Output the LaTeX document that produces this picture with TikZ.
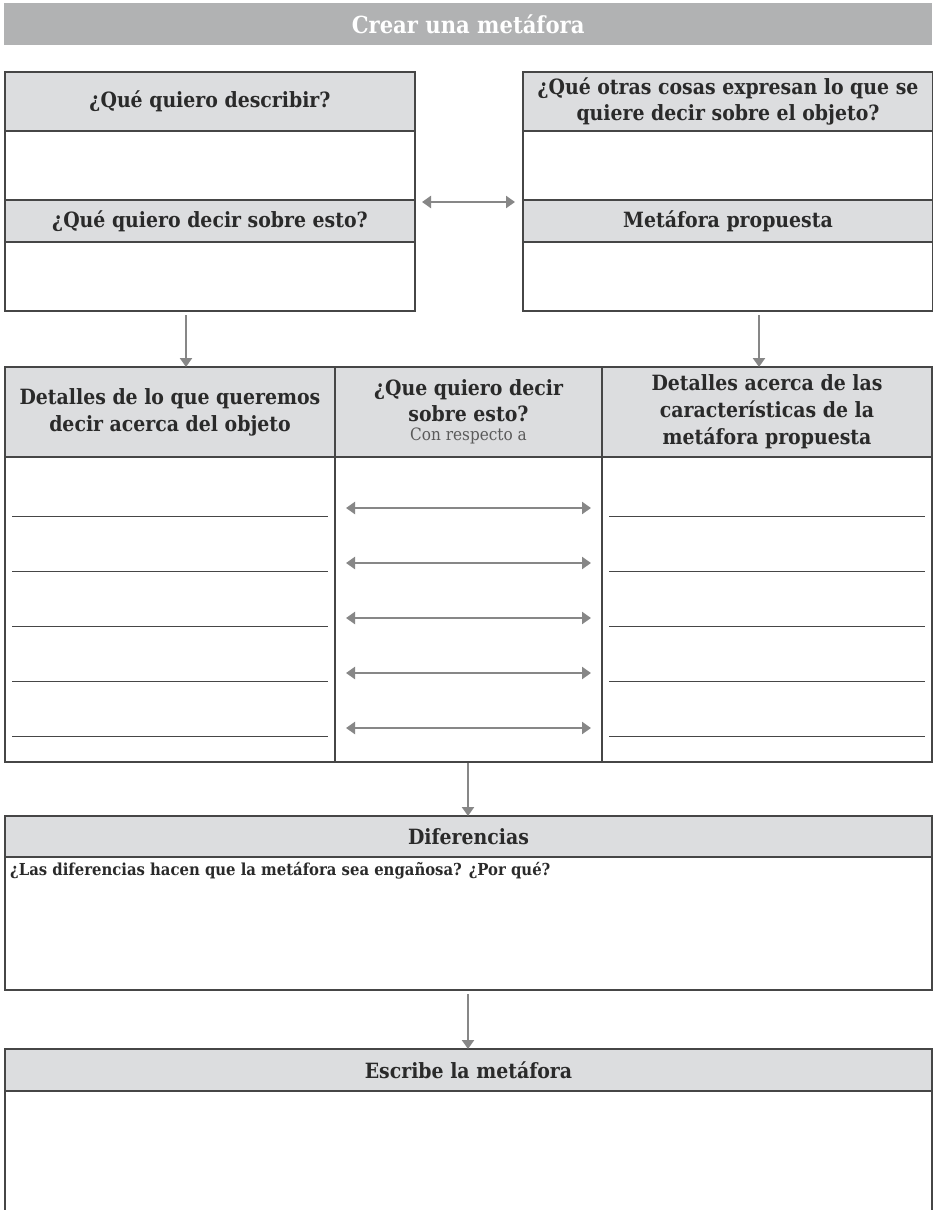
\documentclass[tikz,border=0pt]{standalone}
\usepackage{fontspec}
\setmainfont{DejaVu Serif Condensed}
\usetikzlibrary{arrows.meta,calc}

\definecolor{titlegray}{HTML}{B1B2B3}
\definecolor{hdrfill}{HTML}{DCDDDF}
\definecolor{boxline}{HTML}{464646}
\definecolor{arrowgray}{HTML}{878787}
\definecolor{inktext}{HTML}{2A2A2A}
\definecolor{softtext}{HTML}{5A5A5A}

\newcommand\hdrtype{\fontsize{21}{27}\selectfont\bfseries}
\newcommand\notetype{\fontsize{17}{18}\selectfont\mdseries}

\tikzset{
  box/.style={draw=boxline, line width=1.1pt, inner sep=0pt, outer sep=0pt, anchor=north west},
  hdr/.style={box, fill=hdrfill, align=center, font=\hdrtype, text=inktext},
  body/.style={box, fill=white},
  conn/.style={draw=arrowgray, line width=2.8pt, -{Triangle[length=9pt,width=12pt]}},
  dconn/.style={draw=arrowgray, line width=2.8pt, {Triangle[length=9pt,width=12pt]}-{Triangle[length=9pt,width=12pt]}},
  uline/.style={draw=boxline, line width=0.8pt},
}

\begin{document}
\begin{tikzpicture}[x=1pt,y=-1pt]
\useasboundingbox[fill=white] (0,0) rectangle (932,1210);

% title bar
\node[anchor=north west, fill=titlegray, minimum width=928, minimum height=42,
      inner sep=0pt, text=white, font=\fontsize{23.5}{27}\selectfont\bfseries]
      (title) at (4,3) {Crear una metáfora};

% left pair of boxes
\node[body, minimum width=410, minimum height=69] (descb) at (5,131) {};
\node[body, minimum width=410, minimum height=69] (sayb) at (5,242) {};
\node[hdr, minimum width=410, minimum height=59] (desc) at (5,72) {¿Qué quiero describir?};
\node[hdr, minimum width=410, minimum height=42] (say) at (5,200) {¿Qué quiero decir sobre esto?};

% right pair of boxes
\node[body, minimum width=410, minimum height=69] (otherb) at (523,131) {};
\node[body, minimum width=410, minimum height=69] (metab) at (523,242) {};
\node[hdr, minimum width=410, minimum height=59] (other) at (523,72)
      {¿Qué otras cosas expresan lo que se\\[-1pt]quiere decir sobre el objeto?};
\node[hdr, minimum width=410, minimum height=42] (meta) at (523,200) {Metáfora propuesta};

% comparison table
\node[body, minimum width=330, minimum height=305] (lcolb) at (5,457) {};
\node[body, minimum width=267, minimum height=305] (mcolb) at (335,457) {};
\node[body, minimum width=330, minimum height=305] (rcolb) at (602,457) {};
\node[hdr, minimum width=330, minimum height=90] (lcol) at (5,367)
      {Detalles de lo que queremos\\decir acerca del objeto};
\node[hdr, minimum width=267, minimum height=90] (mcol) at (335,367)
      {¿Que quiero decir\\[-1pt]sobre esto?\\[-8pt]{\notetype\textcolor{softtext}{Con respecto a}}};
\node[hdr, minimum width=330, minimum height=90] (rcol) at (602,367)
      {Detalles acerca de las\\características de la\\metáfora propuesta};

% differences
\node[body, minimum width=927, minimum height=133] (difb) at (5,857) {};
\node[hdr, minimum width=927, minimum height=41] (dif) at (5,816) {Diferencias};
\node[anchor=west, inner sep=0pt, text=inktext, font=\fontsize{16.5}{19}\selectfont\bfseries]
      (difq) at (10,871) {¿Las diferencias hacen que la metáfora sea engañosa? ¿Por qué?};

% final metaphor
\node[body, minimum width=927, minimum height=124] (writeb) at (5,1091) {};
\node[hdr, minimum width=927, minimum height=42] (write) at (5,1049) {Escribe la metáfora};

% connectors
\draw[dconn] ($(say.north east)+(7,2)$) -- ($(meta.north west)+(-8,2)$);

\coordinate (lx) at (186,0);
\coordinate (rx) at (759,0);
\coordinate (mx) at (468,0);
\draw[conn] ($(sayb.south -| lx)+(0,4)$) -- (lcol.north -| lx);
\draw[conn] ($(metab.south -| rx)+(0,4)$) -- (rcol.north -| rx);
\draw[conn] ($(mcolb.south -| mx)+(0,1)$) -- (dif.north -| mx);
\draw[conn] ($(difb.south -| mx)+(0,4)$) -- (write.north -| mx);

% answer rows: writing lines and two-way arrows
\foreach \k in {0,...,4} {
  \coordinate (row\k) at (0,{508+55*\k});
  \draw[uline] ($(lcolb.west |- row\k)+(7,8)$) -- ($(lcolb.east |- row\k)+(-7,8)$);
  \draw[uline] ($(rcolb.west |- row\k)+(7,8)$) -- ($(rcolb.east |- row\k)+(-7,8)$);
  \draw[dconn] ($(mcolb.west |- row\k)+(11,0)$) -- ($(mcolb.east |- row\k)+(-11,0)$);
}
\end{tikzpicture}
\end{document}
